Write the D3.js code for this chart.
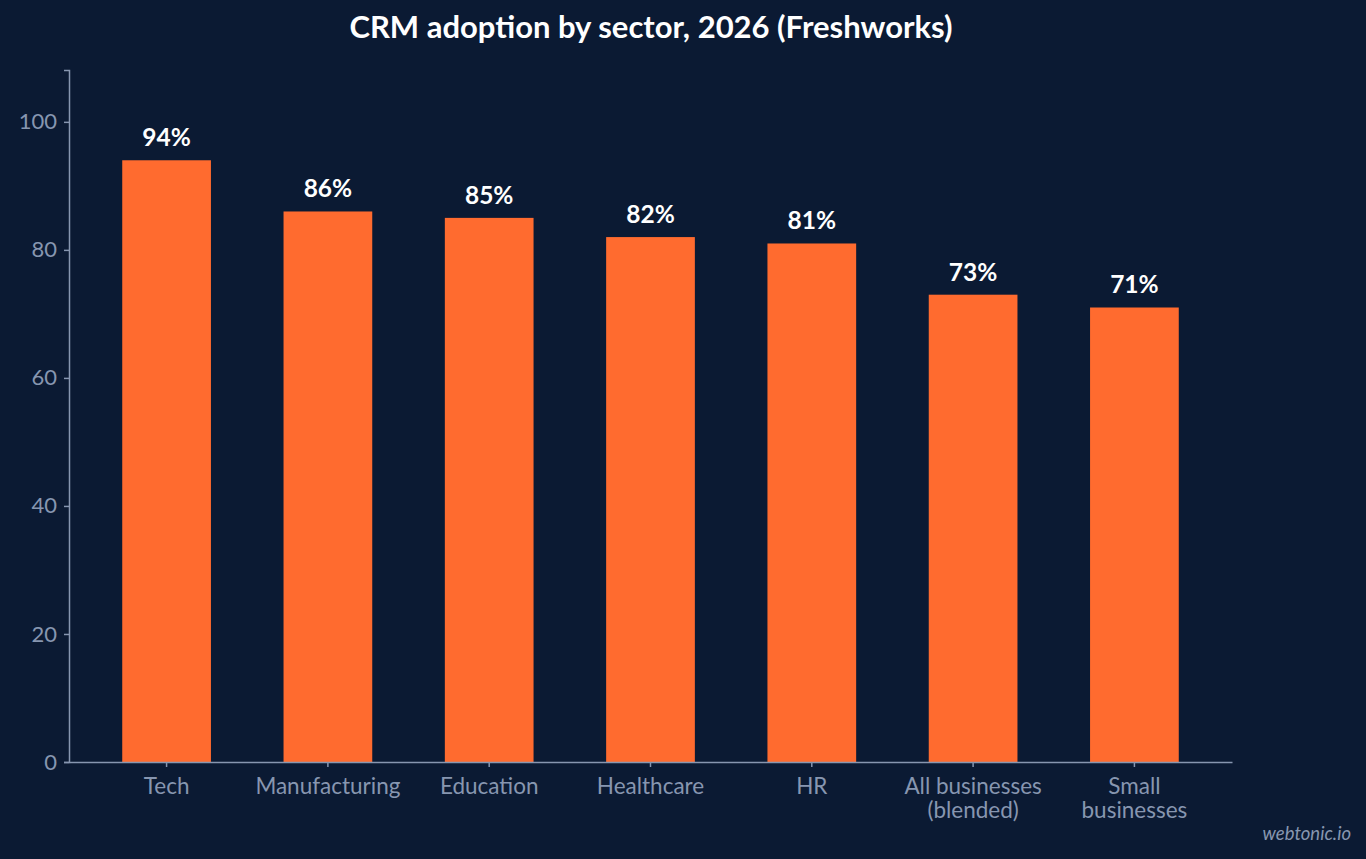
<!DOCTYPE html>
<html>
<head>
<meta charset="utf-8">
<style>
html, body { margin:0; padding:0; background:#0b1a33; }
svg { display:block; }
</style>
</head>
<body>
<svg width="1366" height="859"></svg>
<script src="https://cdn.jsdelivr.net/npm/d3@7"></script>
<script>
var sectors = [["Tech"], ["Manufacturing"], ["Education"], ["Healthcare"], ["HR"], ["All businesses", "(blended)"], ["Small", "businesses"]];
var adoption = [94, 86, 85, 82, 81, 73, 71];
var yTicks = [0, 20, 40, 60, 80, 100];

var svg = d3.select("svg"),
    margin = {top: 70, right: 134, bottom: 97, left: 69},
    width = 1366 - margin.left - margin.right,
    height = 859 - margin.top - margin.bottom,
    g = svg.append("g").attr("transform", "translate(" + margin.left + "," + margin.top + ")");

var axisColor = "#8796b0";
var font = "Lato, 'Open Sans', sans-serif";

svg.append("rect").attr("width", 1366).attr("height", 859).attr("fill", "#0b1a33").lower();

var x = d3.scaleBand()
    .domain(d3.range(sectors.length))
    .range([0, width])
    .paddingInner(0.45)
    .paddingOuter(0.33);
var y = d3.scaleLinear()
    .domain([0, d3.max(adoption) * 1.15])
    .range([height, 0]);

g.selectAll("rect.bar")
    .data(adoption)
  .enter().append("rect")
    .attr("class", "bar")
    .attr("x", function(d, i) { return x(i); })
    .attr("y", function(d) { return y(d); })
    .attr("width", x.bandwidth())
    .attr("height", function(d) { return height - y(d); })
    .attr("fill", "#ff6b2f");

g.selectAll("text.val")
    .data(adoption)
  .enter().append("text")
    .attr("class", "val")
    .attr("x", function(d, i) { return x(i) + x.bandwidth() / 2; })
    .attr("y", function(d) { return y(d) - 14; })
    .attr("text-anchor", "middle")
    .attr("fill", "#ffffff")
    .attr("font-family", font)
    .attr("font-weight", "bold")
    .attr("font-size", "24.5px")
    .text(function(d) { return d + "%"; });

// y axis
var yAxis = g.append("g")
    .call(d3.axisLeft(y).tickValues(yTicks).tickSize(5).tickPadding(7));
yAxis.select(".domain").attr("stroke", axisColor).attr("stroke-width", 1.5);
yAxis.selectAll(".tick line").attr("stroke", axisColor).attr("stroke-width", 1.5);
yAxis.selectAll(".tick text")
    .attr("fill", axisColor)
    .attr("font-family", font)
    .attr("font-size", "22px");

// x axis
var xAxis = g.append("g")
    .attr("transform", "translate(0," + height + ")")
    .call(d3.axisBottom(x).tickSize(5).tickSizeOuter(0).tickFormat(""));
xAxis.select(".domain").attr("stroke", axisColor).attr("stroke-width", 1.5);
xAxis.selectAll(".tick line").attr("stroke", axisColor).attr("stroke-width", 1.5);
xAxis.selectAll(".tick").each(function(i) {
  var t = d3.select(this).select("text")
      .attr("fill", axisColor)
      .attr("font-family", font)
      .attr("font-size", "22.5px")
      .attr("y", 0)
      .attr("dy", null);
  sectors[i].forEach(function(line, k) {
    t.append("tspan").attr("x", 0).attr("y", 32 + k * 24).text(line);
  });
});

// title
svg.append("text")
    .attr("x", 651)
    .attr("y", 38)
    .attr("text-anchor", "middle")
    .attr("fill", "#ffffff")
    .attr("font-family", font)
    .attr("font-weight", "bold")
    .attr("font-size", "31px")
    .text("CRM adoption by sector, 2026 (Freshworks)");

// watermark
svg.append("text")
    .attr("x", 1351)
    .attr("y", 840)
    .attr("text-anchor", "end")
    .attr("fill", "#8796b0")
    .attr("font-family", font)
    .attr("font-style", "italic")
    .attr("font-size", "18.5px")
    .text("webtonic.io");
</script>
</body>
</html>
